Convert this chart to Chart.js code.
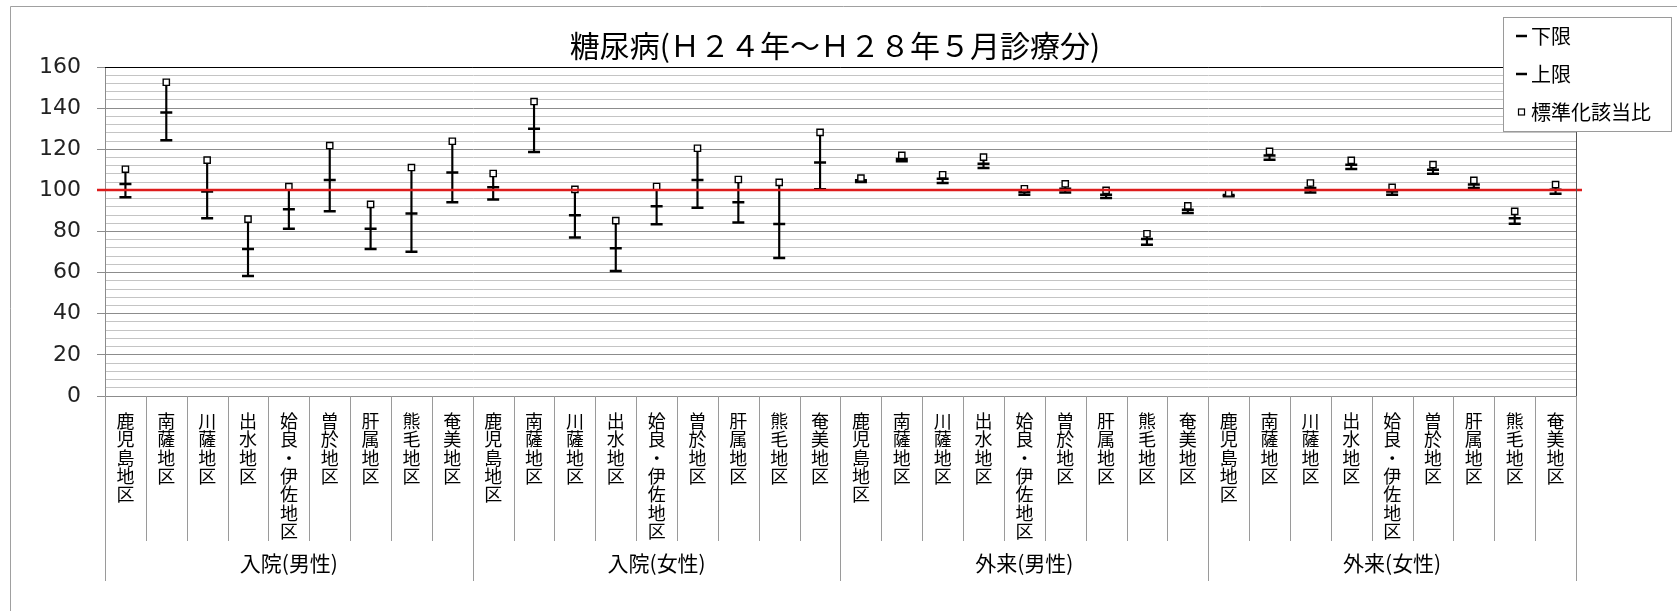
<!DOCTYPE html>
<html>
<head>
<meta charset="utf-8">
<script src="https://cdn.jsdelivr.net/npm/chart.js@4.4.1/dist/chart.umd.min.js"></script>
<style>
  body { margin: 0; background: #fff; }
  canvas { display: block; }
</style>
</head>
<body>
<canvas id="myChart" width="1677" height="611"></canvas>
<script>
var chartTitle = "糖尿病(Ｈ２４年～Ｈ２８年５月診療分)";
var groups = ["入院(男性)", "入院(女性)", "外来(男性)", "外来(女性)"];
var areas = ["鹿児島地区", "南薩地区", "川薩地区", "出水地区", "姶良・伊佐地区", "曽於地区", "肝属地区", "熊毛地区", "奄美地区"];
var seriesNames = ["下限", "上限", "標準化該当比"];
var baseLine = 100;

// bottom dash
var lowerVals = [
  96.6, 124.4, 86.5, 58.4, 81.3, 89.8, 71.5, 70.2, 94.2,
  95.6, 118.7, 77.1, 60.8, 83.5, 91.5, 84.4, 67.1, 100.5,
  104.1, 114.2, 103.6, 110.9, 97.9, 99.0, 96.3, 73.6, 89.0,
  97.1, 114.9, 99.0, 110.4, 97.9, 108.1, 101.1, 83.8, 98.4
];
// middle dash
var upperVals = [
  103.1, 137.9, 99.4, 71.5, 90.8, 105.0, 81.3, 88.7, 108.7,
  101.5, 130.0, 87.9, 71.9, 92.3, 105.0, 94.2, 83.7, 113.5,
  104.9, 115.2, 105.7, 113.0, 99.2, 100.8, 97.9, 76.3, 90.6,
  97.8, 116.9, 101.1, 112.5, 99.5, 110.0, 102.8, 86.5, 100.3
];
// square marker
var sirVals = [
  110.3, 152.6, 114.7, 86.0, 101.8, 121.8, 93.2, 111.1, 123.9,
  108.2, 143.2, 100.5, 85.3, 101.9, 120.5, 105.3, 103.9, 128.2,
  106.0, 117.0, 107.6, 116.2, 100.8, 103.2, 100.0, 78.9, 92.5,
  98.7, 119.0, 103.6, 114.6, 101.5, 112.5, 104.9, 89.8, 102.8
];

var labels = [];
groups.forEach(function () {
  areas.forEach(function (a) { labels.push(Array.from(a)); });
});

var ranges = lowerVals.map(function (v, i) {
  var all = [v, upperVals[i], sirVals[i]];
  return [Math.min.apply(null, all), Math.max.apply(null, all)];
});

var jpFont = '"Noto Sans CJK JP", sans-serif';

var decor = {
  id: 'decor',
  beforeDraw: function (chart) {
    var ctx = chart.ctx;
    ctx.save();
    ctx.fillStyle = '#fff';
    ctx.fillRect(0, 0, chart.width, chart.height);
    ctx.strokeStyle = '#a0a0a0';
    ctx.lineWidth = 1;
    ctx.beginPath();
    ctx.moveTo(10.5, chart.height);
    ctx.lineTo(10.5, 6.5);
    ctx.lineTo(chart.width, 6.5);
    ctx.stroke();
    ctx.restore();
  },
  afterDatasetsDraw: function (chart) {
    var ctx = chart.ctx, area = chart.chartArea;
    var y = Math.round(chart.scales.y.getPixelForValue(baseLine));
    ctx.save();
    ctx.strokeStyle = '#dd1c1c';
    ctx.lineWidth = 2.5;
    ctx.beginPath();
    ctx.moveTo(area.left - 8, y);
    ctx.lineTo(area.right + 6, y);
    ctx.stroke();
    ctx.restore();
  },
  afterDraw: function (chart) {
    var ctx = chart.ctx, area = chart.chartArea;
    var xs = chart.scales.x;
    var step = xs.getPixelForValue(1) - xs.getPixelForValue(0);
    ctx.save();

    // plot frame top / right
    ctx.lineWidth = 1;
    ctx.strokeStyle = '#000';
    ctx.beginPath();
    ctx.moveTo(area.left, Math.round(area.top) + 0.5);
    ctx.lineTo(area.right, Math.round(area.top) + 0.5);
    ctx.stroke();
    ctx.strokeStyle = '#555';
    ctx.beginPath();
    ctx.moveTo(Math.round(area.right) + 0.5, area.top);
    ctx.lineTo(Math.round(area.right) + 0.5, area.bottom);
    ctx.stroke();

    // category separators
    ctx.strokeStyle = '#9a9a9a';
    for (var i = 0; i <= labels.length; i++) {
      var bx = Math.round(xs.getPixelForValue(0) - step / 2 + i * step) + 0.5;
      var isGroup = i % areas.length === 0;
      ctx.beginPath();
      ctx.moveTo(bx, area.bottom);
      ctx.lineTo(bx, isGroup ? 581 : 541);
      ctx.stroke();
    }

    // group labels
    ctx.fillStyle = '#000';
    ctx.font = '21px ' + jpFont;
    ctx.textAlign = 'center';
    ctx.textBaseline = 'middle';
    groups.forEach(function (g, gi) {
      var c = xs.getPixelForValue(0) - step / 2 + (gi * areas.length + areas.length / 2) * step;
      ctx.fillText(g, c, 563);
    });

    // title
    ctx.font = '30px ' + jpFont;
    ctx.fillText(chartTitle, 835, 46);

    // legend
    var lx = 1503.5, ly = 17.5, lw = 168, lh = 114;
    ctx.fillStyle = '#fff';
    ctx.fillRect(lx, ly, lw, lh);
    ctx.strokeStyle = '#9a9a9a';
    ctx.strokeRect(lx, ly, lw, lh);
    ctx.font = '20px ' + jpFont;
    ctx.textAlign = 'left';
    var items = chart.data.datasets.filter(function (d) { return d.type === 'line'; });
    items.forEach(function (d, k) {
      var cy = 36 + k * 38;
      ctx.strokeStyle = '#000';
      if (d.pointStyle === 'line') {
        ctx.lineWidth = 2.5;
        ctx.beginPath();
        ctx.moveTo(1516, cy);
        ctx.lineTo(1527, cy);
        ctx.stroke();
      } else {
        ctx.lineWidth = 1.2;
        ctx.fillStyle = '#fff';
        ctx.fillRect(1518.5, cy - 3, 6, 6);
        ctx.strokeRect(1518.5, cy - 3, 6, 6);
      }
      ctx.fillStyle = '#000';
      ctx.fillText(d.label, 1531, cy);
    });
    ctx.restore();
  }
};

new Chart("myChart", {
  data: {
    labels: labels,
    datasets: [
      {
        type: 'bar',
        label: 'range',
        data: ranges,
        backgroundColor: '#000',
        barThickness: 1.5,
        order: 4
      },
      {
        type: 'line',
        label: seriesNames[0],
        data: lowerVals,
        showLine: false,
        pointStyle: 'line',
        pointRadius: 6,
        borderColor: '#000',
        pointBorderWidth: 2.5,
        order: 3
      },
      {
        type: 'line',
        label: seriesNames[1],
        data: upperVals,
        showLine: false,
        pointStyle: 'line',
        pointRadius: 6,
        borderColor: '#000',
        pointBorderWidth: 2.5,
        order: 2
      },
      {
        type: 'line',
        label: seriesNames[2],
        data: sirVals,
        showLine: false,
        pointStyle: 'rect',
        pointRadius: 4.4,
        borderColor: '#000',
        backgroundColor: '#fff',
        pointBorderWidth: 1.4,
        order: 1
      }
    ]
  },
  options: {
    responsive: false,
    animation: false,
    events: [],
    layout: { padding: { left: 41, right: 101, top: 67, bottom: 71 } },
    plugins: {
      legend: { display: false },
      title: { display: false },
      tooltip: { enabled: false }
    },
    scales: {
      x: {
        offset: true,
        afterFit: function (s) { s.height = 144; },
        grid: { display: true, drawOnChartArea: false, drawTicks: false },
        border: { color: '#8c8c8c' },
        ticks: {
          autoSkip: false,
          maxRotation: 0,
          minRotation: 0,
          padding: 16,
          color: '#000',
          font: { family: jpFont, size: 18, lineHeight: 1.017 }
        }
      },
      y: {
        min: 0,
        max: 160,
        afterFit: function (s) { s.width = 64; },
        border: { color: '#8c8c8c' },
        grid: {
          color: function (c) { return c.tick.value % 20 === 0 ? '#8c8c8c' : '#c4c4c4'; },
          tickColor: function (c) { return c.tick.value % 20 === 0 ? '#8c8c8c' : 'rgba(0,0,0,0)'; },
          tickLength: 8
        },
        ticks: {
          stepSize: 4,
          autoSkip: false,
          padding: 16,
          color: '#222',
          font: { family: '"DejaVu Sans"', size: 22 },
          callback: function (v) { return v % 20 === 0 ? v : ''; }
        }
      }
    }
  },
  plugins: [decor]
});
</script>
</body>
</html>
